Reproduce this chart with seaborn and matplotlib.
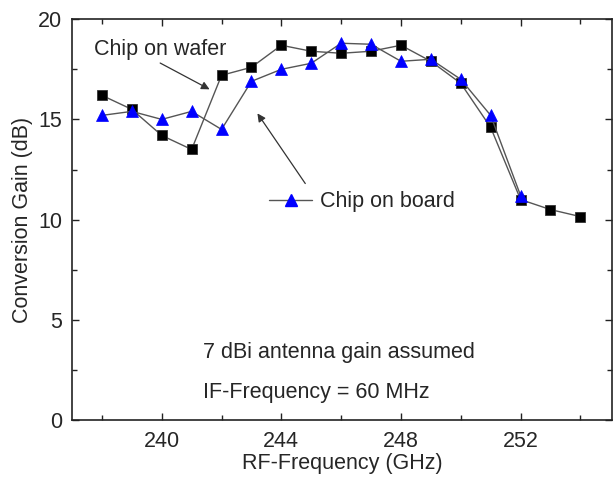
import matplotlib
matplotlib.use("Agg")
import matplotlib.pyplot as plt
from matplotlib.lines import Line2D
from matplotlib.ticker import MultipleLocator
import pandas as pd
import seaborn as sns

# data
freq_wafer = [238, 239, 240, 241, 242, 243, 244, 245, 246, 247, 248, 249, 250, 251, 252, 253, 254]
gain_wafer = [16.2, 15.5, 14.2, 13.5, 17.2, 17.6, 18.7, 18.4, 18.3, 18.4, 18.7, 17.9, 16.8, 14.6, 11.0, 10.5, 10.15]
freq_board = [238, 239, 240, 241, 242, 243, 244, 245, 246, 247, 248, 249, 250, 251, 252]
gain_board = [15.2, 15.4, 15.0, 15.4, 14.5, 16.9, 17.5, 17.8, 18.8, 18.75, 17.9, 18.0, 17.0, 15.2, 11.2]

sns.set_theme(style="ticks")
plt.rcParams["font.family"] = ["Liberation Sans", "DejaVu Sans"]
plt.rcParams["xtick.direction"] = "in"
plt.rcParams["ytick.direction"] = "in"

FS = 15.5
LINE = "#555555"

wafer = pd.DataFrame({"f": freq_wafer, "g": gain_wafer})
board = pd.DataFrame({"f": freq_board, "g": gain_board})

fig = plt.figure(figsize=(6.13, 4.8), dpi=100)
ax = fig.add_axes([0.1175, 0.125, 0.8805, 0.835])

sns.lineplot(data=wafer, x="f", y="g", ax=ax, color=LINE, lw=1.0,
             marker="s", markersize=7, markerfacecolor="black",
             markeredgecolor="#333333", markeredgewidth=0.6)
sns.lineplot(data=board, x="f", y="g", ax=ax, color=LINE, lw=1.0,
             marker="^", markersize=9, markerfacecolor="#0000ff",
             markeredgecolor="#0000ff", markeredgewidth=0.5)

ax.set_xlim(237.0, 255.05)
ax.set_ylim(0, 20)
ax.xaxis.set_major_locator(MultipleLocator(4))
ax.xaxis.set_minor_locator(MultipleLocator(2))
ax.yaxis.set_major_locator(MultipleLocator(5))
ax.yaxis.set_minor_locator(MultipleLocator(2.5))
ax.tick_params(which="both", top=True, right=True, labelsize=FS, width=1.0, color="#222222")
ax.tick_params(which="major", length=5)
ax.tick_params(which="minor", length=3.5)
ax.tick_params(axis="x", which="major", pad=8)
ax.tick_params(axis="y", which="major", pad=7)
for s in ax.spines.values():
    s.set_linewidth(1.2)
    s.set_color("#222222")

ax.set_xlabel("RF-Frequency (GHz)", fontsize=FS, labelpad=1)
ax.set_ylabel("Conversion Gain (dB)", fontsize=FS, labelpad=4)

ax.annotate("Chip on wafer", xy=(241.6, 16.5), xytext=(237.75, 18.5),
            fontsize=FS, va="center",
            arrowprops=dict(arrowstyle="-|>", color="#333333", lw=0.9,
                            mutation_scale=12, shrinkA=0, shrinkB=0,
                            relpos=(0.45, 0.0)))
ax.annotate("", xy=(243.2, 15.3), xytext=(244.8, 11.8),
            arrowprops=dict(arrowstyle="-|>", color="#333333", lw=0.9,
                            mutation_scale=12, shrinkA=0, shrinkB=0))

handle = Line2D([], [], color=LINE, lw=1.0, marker="^", markersize=9,
                markerfacecolor="#0000ff", markeredgecolor="#0000ff")
ax.legend([handle], ["Chip on board"], loc="center left",
          bbox_to_anchor=(0.365, 0.544), frameon=False, fontsize=FS,
          handlelength=2.0, handletextpad=0.35, borderpad=0, borderaxespad=0)

ax.text(241.37, 3.38, "7 dBi antenna gain assumed", fontsize=FS, va="center")
ax.text(241.37, 1.39, "IF-Frequency = 60 MHz", fontsize=FS, va="center")

fig.savefig("out.png", dpi=100)
